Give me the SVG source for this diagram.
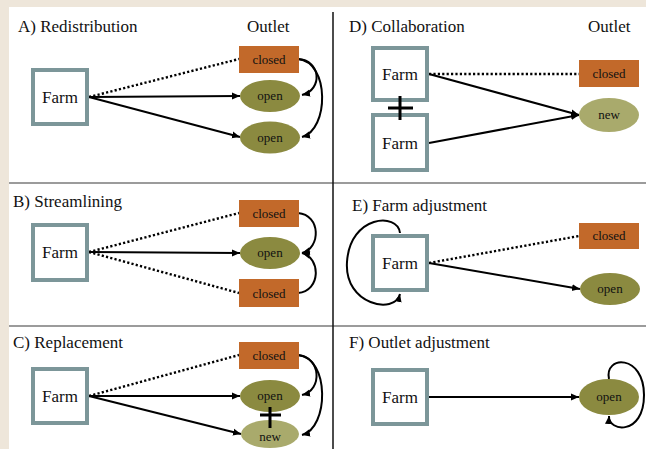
<svg xmlns="http://www.w3.org/2000/svg" width="646" height="449" viewBox="0 0 646 449">
<defs>
<marker id="ah" markerUnits="userSpaceOnUse" markerWidth="9" markerHeight="8" refX="8" refY="4" orient="auto">
<path d="M0,0.5 L8,4 L0,7.5 z" fill="#000"/>
</marker>
<style>
text{font-family:"Liberation Serif","Times New Roman",serif;fill:#111}
.title{font-size:17px}
.ftxt{font-size:17px;text-anchor:middle}
.otxt{font-size:13px;text-anchor:middle}
.farm{fill:#fff;stroke:#7c9699;stroke-width:4}
.closed{fill:#c2692a}
.open{fill:#8b8a40}
.new{fill:#a9aa6c}
.solid{stroke:#000;stroke-width:2;fill:none;marker-end:url(#ah)}
.dot{stroke:#000;stroke-width:2.4;fill:none;stroke-dasharray:2.2 2.2}
.div{stroke:#7a7a7a;stroke-width:1.5}
.plus{stroke:#000;stroke-width:3}
</style>
</defs>
<rect x="0" y="0" width="646" height="449" fill="#eee6da"/>
<rect x="9" y="7" width="637" height="442" fill="#fff"/>
<g id="dividers">
<line class="div" x1="9" y1="183" x2="646" y2="183"/>
<line class="div" x1="9" y1="326" x2="646" y2="326"/>
<line x1="333" y1="12" x2="333" y2="449" stroke="#111" stroke-width="1.5"/>
</g>
<g id="titles">
<text class="title" x="18" y="32">A) Redistribution</text>
<text class="title" x="247" y="32">Outlet</text>
<text class="title" x="13" y="207">B) Streamlining</text>
<text class="title" x="13" y="348">C) Replacement</text>
<text class="title" x="349" y="32">D) Collaboration</text>
<text class="title" x="588" y="32">Outlet</text>
<text class="title" x="352" y="211">E) Farm adjustment</text>
<text class="title" x="349" y="348">F) Outlet adjustment</text>
</g>
<g id="connectors">
<!-- A -->
<line class="dot" x1="89" y1="97" x2="239" y2="59"/>
<line class="solid" x1="89" y1="97" x2="240" y2="96"/>
<line class="solid" x1="89" y1="97" x2="240" y2="137"/>
<path class="solid" d="M298,59 C321,60 323,90 302,95"/>
<path class="solid" d="M298,59 C330,62 329,130 302,137"/>
<!-- B -->
<line class="dot" x1="89" y1="252" x2="239" y2="213"/>
<line class="dot" x1="89" y1="252" x2="239" y2="293"/>
<line class="solid" x1="89" y1="252" x2="240" y2="253"/>
<path class="solid" d="M298,213 C321,215 321,248 302,253"/>
<path class="solid" d="M298,293 C321,291 321,258 302,253"/>
<!-- C -->
<line class="dot" x1="89" y1="396" x2="239" y2="355"/>
<line class="solid" x1="89" y1="396" x2="240" y2="396"/>
<line class="solid" x1="89" y1="396" x2="241" y2="434"/>
<path class="solid" d="M298,355 C321,357 323,390 302,395"/>
<path class="solid" d="M298,355 C330,358 329,428 302,435"/>
<!-- D -->
<line class="dot" x1="429" y1="74" x2="579" y2="74"/>
<line class="solid" x1="429" y1="74" x2="579" y2="115"/>
<line class="solid" x1="429" y1="143" x2="579" y2="115"/>
<!-- E -->
<line class="dot" x1="429" y1="263" x2="579" y2="236"/>
<line class="solid" x1="429" y1="263" x2="580" y2="289"/>
<path class="solid" d="M400,233 C398,212 350,215 347,262 C344,305 395,315 400,294"/>
<!-- F -->
<line class="solid" x1="429" y1="397" x2="579" y2="397"/>
<path class="solid" d="M609,379 C604,355 644,354 644,395 C644,436 608,432 609,416"/>
</g>
<g id="farmA"><rect class="farm" x="33" y="70" width="54" height="54"/><text class="ftxt" x="60" y="103">Farm</text></g>
<g id="closedA"><rect class="closed" x="239" y="46" width="60" height="27"/><text class="otxt" x="269" y="64">closed</text></g>
<g id="openA1"><ellipse class="open" cx="270" cy="96" rx="30" ry="16"/><text class="otxt" x="270" y="100">open</text></g>
<g id="openA2"><ellipse class="open" cx="270" cy="137.5" rx="30" ry="16"/><text class="otxt" x="270" y="141.5">open</text></g>

<g id="farmB"><rect class="farm" x="33" y="225" width="54" height="55"/><text class="ftxt" x="60" y="258">Farm</text></g>
<g id="closedB1"><rect class="closed" x="239" y="200" width="60" height="27"/><text class="otxt" x="269" y="218">closed</text></g>
<g id="openB"><ellipse class="open" cx="270" cy="253" rx="30" ry="16"/><text class="otxt" x="270" y="257">open</text></g>
<g id="closedB2"><rect class="closed" x="239" y="279" width="60" height="28"/><text class="otxt" x="269" y="298">closed</text></g>

<g id="farmC"><rect class="farm" x="33" y="369" width="54" height="54"/><text class="ftxt" x="60" y="402">Farm</text></g>
<g id="closedC"><rect class="closed" x="239" y="342" width="60" height="27"/><text class="otxt" x="269" y="360">closed</text></g>
<g id="openC"><ellipse class="open" cx="270" cy="396" rx="30" ry="16"/><text class="otxt" x="270" y="400">open</text></g>
<g id="newC"><ellipse class="new" cx="270" cy="434" rx="29" ry="14"/><text class="otxt" x="270" y="441">new</text></g>
<g id="plusC"><line class="plus" x1="260" y1="415" x2="281" y2="415" stroke-width="2.5"/><line class="plus" x1="270" y1="407" x2="270" y2="428" stroke-width="2.5"/></g>

<g id="farmD1"><rect class="farm" x="373" y="48" width="54" height="52"/><text class="ftxt" x="400" y="80">Farm</text></g>
<g id="farmD2"><rect class="farm" x="373" y="115" width="54" height="55"/><text class="ftxt" x="400" y="149">Farm</text></g>
<g id="plusD"><line class="plus" x1="388" y1="108" x2="413" y2="108"/><line class="plus" x1="400" y1="96" x2="400" y2="120"/></g>
<g id="closedD"><rect class="closed" x="579" y="60" width="60" height="27"/><text class="otxt" x="609" y="78">closed</text></g>
<g id="newD"><ellipse class="new" cx="609" cy="115" rx="30" ry="17"/><text class="otxt" x="609" y="119">new</text></g>

<g id="farmE"><rect class="farm" x="373" y="236" width="54" height="54"/><text class="ftxt" x="400" y="269">Farm</text></g>
<g id="closedE"><rect class="closed" x="579" y="223" width="60" height="26"/><text class="otxt" x="609" y="240">closed</text></g>
<g id="openE"><ellipse class="open" cx="610" cy="289" rx="30" ry="16"/><text class="otxt" x="610" y="293">open</text></g>

<g id="farmF"><rect class="farm" x="373" y="370" width="54" height="54"/><text class="ftxt" x="400" y="403">Farm</text></g>
<g id="openF"><ellipse class="open" cx="609" cy="397" rx="30" ry="18"/><text class="otxt" x="609" y="401">open</text></g>
</svg>
